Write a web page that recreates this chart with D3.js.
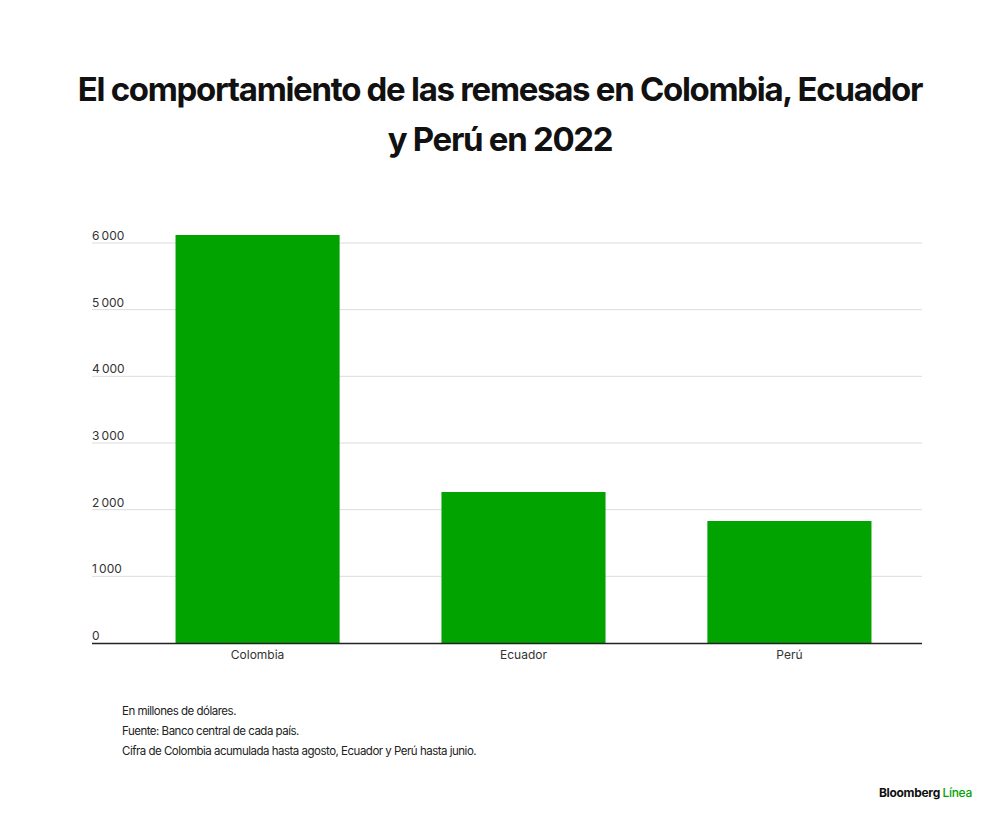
<!DOCTYPE html>
<html>
<head>
<meta charset="utf-8">
<script src="https://cdn.jsdelivr.net/npm/d3@7"></script>
<style>
  body { margin: 0; background: #fff; }
  text { font-family: Inter, "Liberation Sans", sans-serif; }
</style>
</head>
<body>
<svg id="chart" width="1000" height="821"></svg>
<script>
// datos
var paises = ["Colombia", "Ecuador", "Perú"];
var remesas = [6120, 2265, 1830];
var ticks = [0, 1000, 2000, 3000, 4000, 5000, 6000];
var notas = [
  "En millones de dólares.",
  "Fuente: Banco central de cada país.",
  "Cifra de Colombia acumulada hasta agosto, Ecuador y Perú hasta junio."
];

var svg = d3.select('#chart');
svg.append('rect').attr('width', 1000).attr('height', 821).attr('fill', '#fff');

// titulo
var titulo = ["El comportamiento de las remesas en Colombia, Ecuador", "y Perú en 2022"];
titulo.forEach(function (t, i) {
  svg.append('text').attr('x', 500).attr('y', 101 + i * 50)
    .attr('text-anchor', 'middle').attr('font-size', 33).attr('font-weight', 700)
    .attr('letter-spacing', -1.3).attr('fill', '#111').text(t);
});

var left = 92, right = 922;
var y = d3.scaleLinear().domain([0, 6000]).range([643, 243]);
var x = d3.scaleBand().domain(paises).range([125, 922]).paddingInner(0.383).paddingOuter(0.19);

// grid
svg.append('g').selectAll('line').data(ticks.filter(function (d) { return d > 0; })).enter()
  .append('line').attr('x1', left).attr('x2', right)
  .attr('y1', function (d) { return y(d); }).attr('y2', function (d) { return y(d); })
  .attr('stroke', '#dcdcdc').attr('stroke-width', 1);

var fmt = function (d) { return d >= 1000 ? Math.floor(d / 1000) + "\u2009" + "000" : "0"; };
svg.append('g').selectAll('text').data(ticks).enter()
  .append('text').attr('x', left).attr('y', function (d) { return y(d) - 3; })
  .attr('font-size', 12).attr('fill', '#333').text(fmt);

// barras
svg.append('g').selectAll('rect').data(remesas).enter()
  .append('rect')
  .attr('x', function (d, i) { return x(paises[i]); })
  .attr('width', x.bandwidth())
  .attr('y', function (d) { return y(d); })
  .attr('height', function (d) { return y(0) - y(d); })
  .attr('fill', '#00a300');

// eje x
svg.append('line').attr('x1', left).attr('x2', right).attr('y1', 643.5).attr('y2', 643.5)
  .attr('stroke', '#222').attr('stroke-width', 1.5);
svg.append('g').selectAll('text').data(paises).enter()
  .append('text').attr('x', function (d) { return x(d) + x.bandwidth() / 2; })
  .attr('y', 659).attr('text-anchor', 'middle').attr('font-size', 12).attr('fill', '#333')
  .text(function (d) { return d; });

// notas
notas.forEach(function (t, i) {
  svg.append('text').attr('x', 122).attr('y', 715 + i * 20)
    .attr('font-size', 11.5).attr('letter-spacing', -0.5).attr('fill', '#222').text(t);
});

// logo
var logo = svg.append('text').attr('x', 972).attr('y', 797).attr('text-anchor', 'end')
  .attr('font-size', 12).attr('font-weight', 700).attr('letter-spacing', -0.3);
logo.append('tspan').attr('fill', '#111').text('Bloomberg ');
logo.append('tspan').attr('fill', '#00a300').attr('font-weight', 500).text('Línea');
</script>
</body>
</html>
